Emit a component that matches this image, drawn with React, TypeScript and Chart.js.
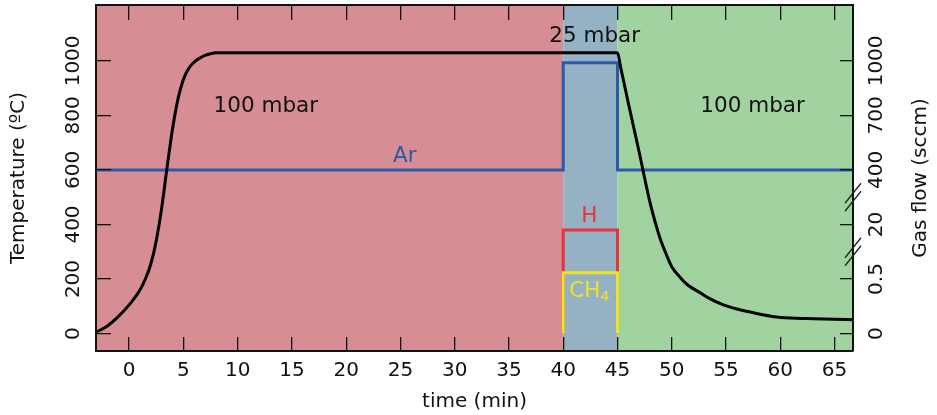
import React, { useEffect, useRef } from 'react';
import { Chart, registerables } from 'chart.js';

Chart.register(...registerables);

// ---------- data ----------
const X_MIN = -3.05;
const X_MAX = 66.7;
const Y_MIN = -64;
const Y_MAX = 1205;

const xTicks = [0, 5, 10, 15, 20, 25, 30, 35, 40, 45, 50, 55, 60, 65];
const tempTicks = [0, 200, 400, 600, 800, 1000];
const gasTickLabels = ['0', '0.5', '20', '400', '700', '1000'];
const gasTickFlows = [0, 0.5, 20, 400, 700, 1000];
const gasBreaks = [300, 500];

const tempTime = [-3.05, -2, -1, 0, 1, 1.5, 2, 2.5, 3, 3.5, 4, 4.5, 5, 5.5, 6, 6.5, 7, 8, 45, 45.3, 46, 47, 48, 48.5, 49, 49.5, 50, 50.8, 51.5, 52.6, 53.5, 54.7, 56, 57, 58, 59.4, 61, 62.5, 65, 66.7];
const tempValue = [5, 28, 62, 105, 160, 200, 255, 340, 460, 610, 750, 860, 932, 973, 996, 1010, 1020, 1030, 1030, 975, 845, 665, 480, 405, 340, 290, 245, 205, 177, 150, 128, 106, 90, 81, 72, 62, 57, 55, 52, 51];

const arTime = [-3.05, 40, 40, 45, 45, 66.7];
const arFlow = [400, 400, 990, 990, 400, 400];
const hTime = [40, 40, 45, 45];
const hFlow = [0, 18, 18, 0];
const ch4Time = [40, 40, 45, 45];
const ch4Flow = [0, 2.7, 2.7, 0];

const phaseStart = [-3.05, 40, 45];
const phaseEnd = [40, 45, 66.7];

// ---------- style ----------
const FONT = "'DejaVu Sans', Verdana, sans-serif";
const INK = '#111111';
const phaseColors = ['#D68D93', '#95B1C4', '#A1D3A1'];
const AR_COLOR = '#2B5AAA';
const H_COLOR = '#EA323E';
const CH4_COLOR = '#F2E31C';
const TICK_SIZE = 20;
const TITLE_SIZE = 20;
const NOTE_SIZE = 21.5;

const xTitle = 'time (min)';
const tempTitle = 'Temperature (ºC)';
const gasTitle = 'Gas flow (sccm)';

const notes = [
  { text: '100 mbar', t: 12.6, v: 833, color: INK },
  { text: '25 mbar', t: 42.9, v: 1088, color: INK },
  { text: '100 mbar', t: 57.45, v: 833, color: INK },
  { text: 'Ar', t: 25.4, v: 648, color: AR_COLOR },
  { text: 'H', t: 42.4, v: 431, color: H_COLOR },
];
const ch4Note = { main: 'CH', sub: '4', t: 42.4, v: 154, color: CH4_COLOR };

function flowToAxis(f: number): number {
  for (let i = 1; i < gasTickFlows.length; i++) {
    if (f <= gasTickFlows[i]) {
      const a = gasTickFlows[i - 1];
      const b = gasTickFlows[i];
      return tempTicks[i - 1] + ((f - a) / (b - a)) * (tempTicks[i] - tempTicks[i - 1]);
    }
  }
  return tempTicks[tempTicks.length - 1];
}

const pts = (xs: number[], ys: number[], map?: (v: number) => number) =>
  xs.map((x, i) => ({ x, y: map ? map(ys[i]) : ys[i] }));

const noPad = (s: any) => {
  s.paddingTop = 0;
  s.paddingBottom = 0;
  s.paddingLeft = 0;
  s.paddingRight = 0;
};

const decorPlugin = {
  id: 'decor',
  beforeDraw(chart: any) {
    const { ctx, chartArea, scales } = chart;
    const xs = scales.x;
    ctx.save();
    for (let i = 0; i < phaseStart.length; i++) {
      const a = Math.max(chartArea.left, xs.getPixelForValue(phaseStart[i]));
      const b = Math.min(chartArea.right, xs.getPixelForValue(phaseEnd[i]));
      ctx.fillStyle = phaseColors[i];
      ctx.fillRect(a, chartArea.top, b - a, chartArea.bottom - chartArea.top);
    }
    ctx.restore();
  },
  afterDatasetsDraw(chart: any) {
    const { ctx, scales } = chart;
    const xs = scales.x;
    const ys = scales.y;
    ctx.save();
    ctx.textAlign = 'center';
    ctx.textBaseline = 'middle';
    ctx.font = `${NOTE_SIZE}px ${FONT}`;
    for (const n of notes) {
      ctx.fillStyle = n.color;
      ctx.fillText(n.text, xs.getPixelForValue(n.t), ys.getPixelForValue(n.v));
    }
    // CH4 with subscript
    const cx = xs.getPixelForValue(ch4Note.t);
    const cy = ys.getPixelForValue(ch4Note.v);
    ctx.font = `${NOTE_SIZE}px ${FONT}`;
    const w1 = ctx.measureText(ch4Note.main).width;
    ctx.font = `${NOTE_SIZE * 0.65}px ${FONT}`;
    const w2 = ctx.measureText(ch4Note.sub).width;
    const x0 = cx - (w1 + w2) / 2;
    ctx.textAlign = 'left';
    ctx.fillStyle = ch4Note.color;
    ctx.font = `${NOTE_SIZE}px ${FONT}`;
    ctx.fillText(ch4Note.main, x0, cy);
    ctx.font = `${NOTE_SIZE * 0.65}px ${FONT}`;
    ctx.fillText(ch4Note.sub, x0 + w1, cy + 6);
    ctx.restore();
  },
  afterDraw(chart: any) {
    const { ctx, chartArea, scales } = chart;
    const y2 = scales.y2;
    ctx.save();
    // axis breaks
    ctx.strokeStyle = '#222';
    ctx.lineWidth = 1.3;
    for (const b of gasBreaks) {
      const py = y2.getPixelForValue(b);
      const px = chartArea.right;
      for (const k of [-1, 1]) {
        ctx.beginPath();
        ctx.moveTo(px - 8, py + k * 4 + 10);
        ctx.lineTo(px + 8, py + k * 4 - 10);
        ctx.stroke();
      }
    }
    // right axis title (reads bottom to top)
    ctx.translate(921, (chartArea.top + chartArea.bottom) / 2);
    ctx.rotate(-Math.PI / 2);
    ctx.textAlign = 'center';
    ctx.textBaseline = 'middle';
    ctx.fillStyle = INK;
    ctx.font = `${TITLE_SIZE}px ${FONT}`;
    ctx.fillText(gasTitle, 0, 0);
    ctx.restore();
  },
};

export default function App() {
  const ref = useRef<HTMLCanvasElement | null>(null);

  useEffect(() => {
    const tickFont = { family: FONT, size: TICK_SIZE };
    const titleFont = { family: FONT, size: TITLE_SIZE };
    const gridBase = { drawOnChartArea: false, drawTicks: true, color: INK, lineWidth: 1.3, z: 1 };
    const border = { display: true, color: INK, width: 2, z: 1 };
    const line = (data: any[], color: string, axis: string) => ({
      data,
      borderColor: color,
      borderWidth: 3,
      pointRadius: 0,
      fill: false,
      tension: 0,
      yAxisID: axis,
    });

    const chart = new Chart(ref.current as HTMLCanvasElement, {
      type: 'line',
      data: {
        datasets: [
          { ...line(pts(tempTime, tempValue), '#000000', 'y'), cubicInterpolationMode: 'monotone' } as any,
          line(pts(ch4Time, ch4Flow, flowToAxis), CH4_COLOR, 'y2'),
          line(pts(hTime, hFlow, flowToAxis), H_COLOR, 'y2'),
          line(pts(arTime, arFlow, flowToAxis), AR_COLOR, 'y2'),
        ],
      },
      options: {
        animation: false,
        responsive: false,
        parsing: false as any,
        normalized: true,
        layout: { padding: { top: 5, left: 0, right: 0, bottom: 0 } },
        plugins: { legend: { display: false }, tooltip: { enabled: false } },
        scales: {
          x: {
            type: 'linear',
            position: 'bottom',
            min: X_MIN,
            max: X_MAX,
            afterBuildTicks: (s: any) => { s.ticks = xTicks.map((v) => ({ value: v })); },
            afterFit: (s: any) => { s.height = 64; noPad(s); },
            grid: { ...gridBase, tickLength: -14 },
            border,
            ticks: { font: tickFont, color: INK, padding: 22, maxRotation: 0, minRotation: 0, callback: (v: any) => String(v) },
            title: { display: true, text: xTitle, font: titleFont, color: INK, padding: { top: 0, bottom: 1 } },
          },
          x2: {
            type: 'linear',
            position: 'top',
            min: X_MIN,
            max: X_MAX,
            afterBuildTicks: (s: any) => { s.ticks = xTicks.map((v) => ({ value: v })); },
            afterFit: (s: any) => { s.height = 0; noPad(s); },
            grid: { ...gridBase, tickLength: -15 },
            border,
            ticks: { display: false },
          },
          y: {
            type: 'linear',
            position: 'left',
            min: Y_MIN,
            max: Y_MAX,
            afterBuildTicks: (s: any) => { s.ticks = tempTicks.map((v) => ({ value: v })); },
            afterFit: (s: any) => { s.width = 96; noPad(s); },
            grid: { ...gridBase, tickLength: -15 },
            border,
            ticks: { font: tickFont, color: INK, padding: 12, minRotation: 90, maxRotation: 90, crossAlign: 'center', callback: (v: any) => String(v) },
            title: { display: true, text: tempTitle, font: titleFont, color: INK, padding: { top: 7, bottom: 0 } },
          },
          y2: {
            type: 'linear',
            position: 'right',
            min: Y_MIN,
            max: Y_MAX,
            afterBuildTicks: (s: any) => { s.ticks = tempTicks.map((v) => ({ value: v })); },
            afterFit: (s: any) => { s.width = 84; noPad(s); },
            grid: { ...gridBase, tickLength: -13 },
            border,
            ticks: {
              font: tickFont,
              color: INK,
              padding: 11,
              minRotation: 90,
              maxRotation: 90,
              crossAlign: 'center',
              callback: (v: any) => gasTickLabels[tempTicks.indexOf(Number(v))] ?? '',
            },
          },
        },
      } as any,
      plugins: [decorPlugin],
    });
    return () => chart.destroy();
  }, []);

  return (
    <div style={{ position: 'absolute', left: 0, top: 0, width: 937, height: 415 }}>
      <canvas ref={ref} width={937} height={415} style={{ width: 937, height: 415, display: 'block' }} />
    </div>
  );
}
